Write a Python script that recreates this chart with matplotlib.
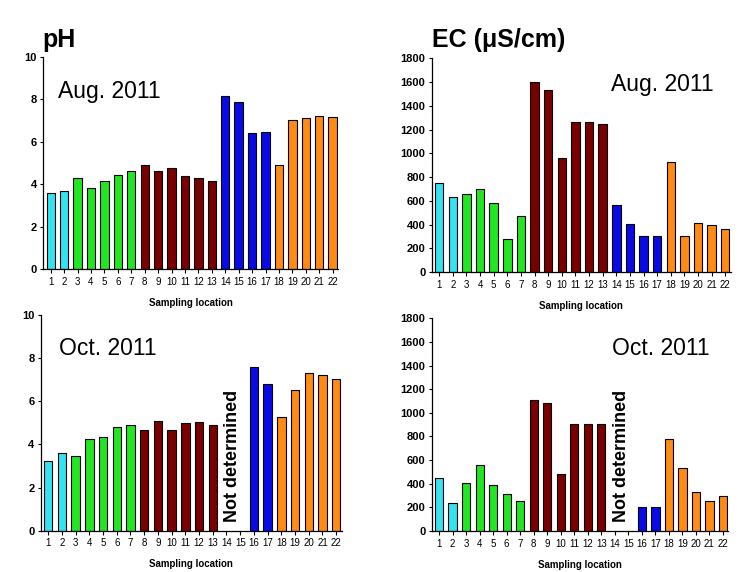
import numpy as np
import matplotlib.pyplot as plt

plt.rcParams['font.family'] = ['Liberation Sans', 'DejaVu Sans']

# sampling locations 1..22
locations = np.arange(1, 23)

# pH values (14 and 15 not determined in October)
ph_aug = [3.58, 3.67, 4.28, 3.81, 4.14, 4.42, 4.61, 4.89, 4.62, 4.75, 4.39,
          4.29, 4.14, 8.13, 7.87, 6.39, 6.44, 4.89, 7.00, 7.10, 7.23, 7.15]
ph_oct = [3.21, 3.59, 3.45, 4.23, 4.33, 4.79, 4.88, 4.65, 5.07, 4.65, 4.98,
          5.02, 4.88, np.nan, np.nan, 7.57, 6.79, 5.25, 6.51, 7.30, 7.23, 7.02]

# electric conductivity, uS/cm
ec_aug = [752, 636, 658, 700, 583, 280, 473, 1602, 1535, 961, 1266,
          1266, 1246, 569, 409, 308, 308, 927, 308, 417, 400, 367]
ec_oct = [452, 235, 402, 562, 385, 317, 250, 1110, 1084, 480, 903,
          903, 903, np.nan, np.nan, 202, 202, 775, 537, 326, 250, 300]

site_colors = (['#33E3F0'] * 2 + ['#22E622'] * 5 + ['#7A0000'] * 6 +
               ['#0A0AE6'] * 4 + ['#FF8A14'] * 5)


def draw_panel(rect, values, ymax, ystep, month, month_xy, nd_xy=None):
	ax = fig.add_axes(rect)
	vals = np.asarray(values, dtype=float)
	ok = ~np.isnan(vals)
	cols = [c for c, k in zip(site_colors, ok) if k]
	ax.bar(locations[ok], vals[ok], width=0.62, color=cols,
	       edgecolor='black', linewidth=0.8)

	ax.set_xlim(0.45, 22.4)
	ax.set_ylim(0, ymax)
	ax.set_xticks(locations)
	ax.set_xticklabels([str(i) for i in locations], fontsize=7)
	ax.set_yticks(np.arange(0, ymax + 1, ystep))
	ax.tick_params(axis='y', labelsize=8, length=2.5, width=0.8, pad=2)
	ax.tick_params(axis='x', length=3, width=0.8, pad=2.5)
	for lab in ax.get_yticklabels():
		lab.set_fontweight('bold')
	for side in ['top', 'right']:
		ax.spines[side].set_visible(False)
	for side in ['left', 'bottom']:
		ax.spines[side].set_linewidth(0.9)

	ax.set_xlabel('Sampling location', fontsize=7, fontweight='bold', labelpad=8)
	ax.text(month_xy[0], month_xy[1], month, transform=ax.transAxes,
	        fontsize=16.5, ha='left', va='baseline')
	if nd_xy is not None:
		ax.text(nd_xy[0], nd_xy[1], 'Not determined', rotation=90,
		        fontsize=13, fontweight='bold', ha='center', va='bottom')
	return ax


fig = plt.figure(figsize=(7.49, 5.72), dpi=100)

draw_panel([0.0578, 0.5292, 0.3935, 0.3717], ph_aug, 10, 2,
           'Aug. 2011', (0.05, 0.806))
draw_panel([0.5764, 0.5240, 0.3992, 0.3741], ec_aug, 1800, 200,
           'Aug. 2011', (0.599, 0.849))
draw_panel([0.0543, 0.0722, 0.4019, 0.3771], ph_oct, 10, 2,
           'Oct. 2011', (0.062, 0.815), nd_xy=(14.45, 0.42))
draw_panel([0.5764, 0.0717, 0.3960, 0.3719], ec_oct, 1800, 200,
           'Oct. 2011', (0.607, 0.827), nd_xy=(14.5, 79))

title_font = ['Liberation Sans Narrow', 'Liberation Sans', 'DejaVu Sans']
fig.text(42 / 749, 1 - 46.5 / 572, 'pH', fontsize=18, fontweight='bold',
         family=title_font, stretch='condensed', ha='left', va='baseline')
fig.text(432 / 749, 1 - 46.5 / 572, 'EC (\u03bcS/cm)', fontsize=18,
         fontweight='bold', family=title_font, stretch='condensed',
         ha='left', va='baseline')

fig.savefig('out.png', dpi=100)
